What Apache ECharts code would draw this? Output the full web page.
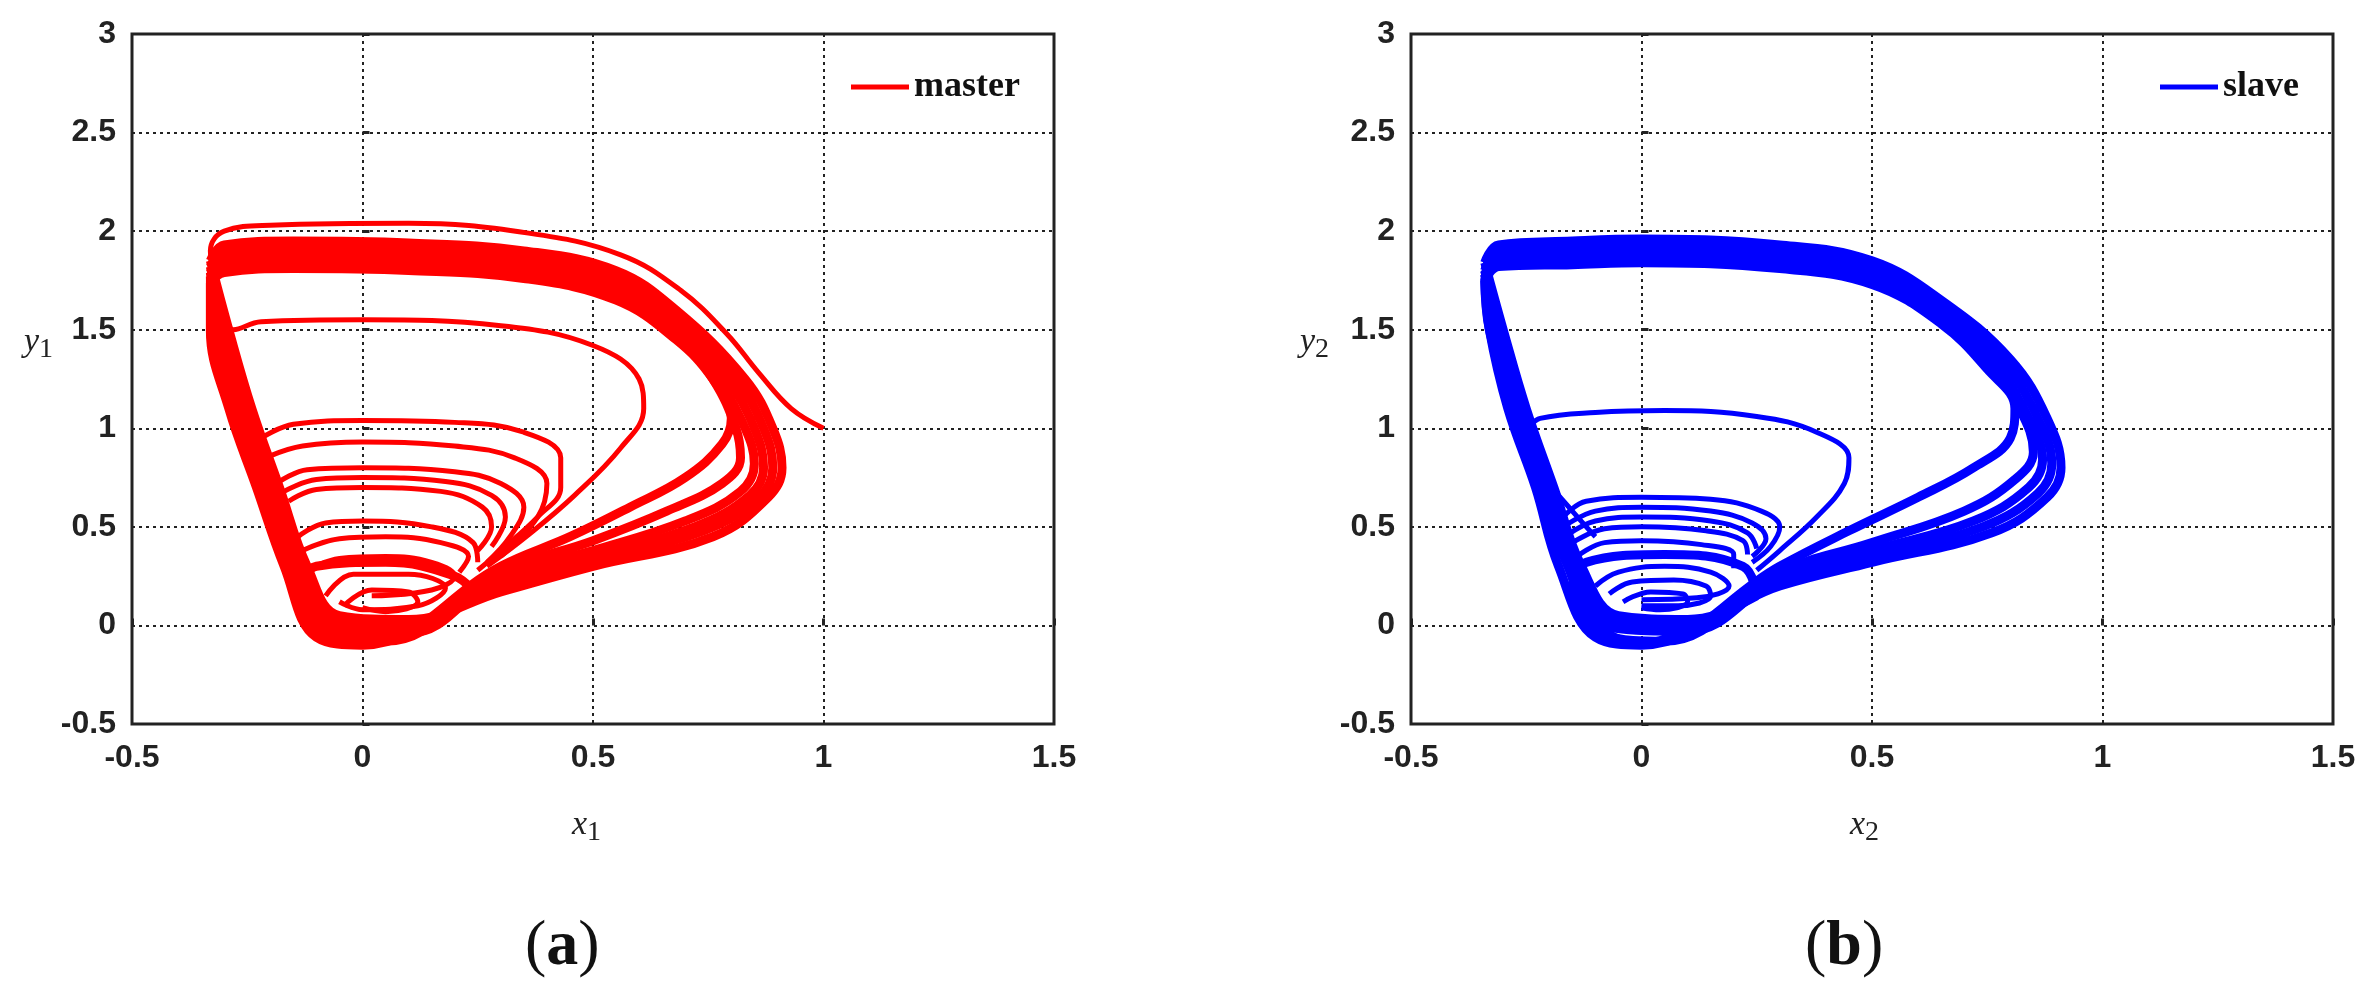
<!DOCTYPE html>
<html><head><meta charset="utf-8">
<script src="https://cdn.jsdelivr.net/npm/echarts@6/dist/echarts.min.js"></script>
<style>html,body{margin:0;padding:0;background:#fff}#c{width:2377px;height:997px}</style>
</head><body><div id="c"></div>
<script>
// axis ticks
const xTicks = [-0.5, 0, 0.5, 1, 1.5];
const yTicks = [-0.5, 0, 0.5, 1, 1.5, 2, 2.5, 3];

// ---- master (red) trajectory pieces, [x1, y1]
const masterStart = [[1,1],[0.93,1.1],[0.86,1.28],[0.79,1.48],[0.69,1.7],[0.56,1.88],[0.36,1.99],[0.1,2.04],[-0.2,2.03],[-0.3,2.0],[-0.33,1.9],[-0.32,1.75]];
const masterLoop155 = [[-0.32,1.75],[-0.3,1.6],[-0.28,1.5],[-0.22,1.54],[0,1.55],[0.3,1.52],[0.5,1.42],[0.6,1.25],[0.61,1.1],[0.56,0.9],[0.46,0.66],[0.36,0.46],[0.27,0.3]];
const masterBand1 = [[-0.33,1.85],[-0.3,1.93],[-0.15,1.95],[0.1,1.94],[0.35,1.9],[0.55,1.8],[0.68,1.6],[0.83,1.25],[0.89,1.0],[0.91,0.8],[0.88,0.65],[0.76,0.45],[0.5,0.3],[0.3,0.17],[0.1,0.03],[-0.05,0.05],[-0.12,0.3],[-0.18,0.7],[-0.24,1.1],[-0.29,1.5],[-0.33,1.85]];
const masterBand2 = [[-0.33,1.82],[-0.3,1.9],[-0.15,1.92],[0.1,1.91],[0.35,1.87],[0.55,1.77],[0.68,1.57],[0.81,1.25],[0.87,1.0],[0.89,0.8],[0.86,0.65],[0.74,0.48],[0.5,0.33],[0.3,0.2],[0.1,0.02],[-0.06,0.03],[-0.13,0.3],[-0.19,0.7],[-0.25,1.1],[-0.3,1.5],[-0.33,1.82]];
const masterBand3 = [[-0.33,1.79],[-0.3,1.87],[-0.15,1.89],[0.1,1.88],[0.35,1.84],[0.55,1.74],[0.68,1.54],[0.79,1.25],[0.85,1.0],[0.87,0.8],[0.84,0.66],[0.72,0.5],[0.5,0.35],[0.3,0.22],[0.1,0.0],[-0.07,0.0],[-0.14,0.3],[-0.2,0.7],[-0.26,1.1],[-0.31,1.5],[-0.33,1.79]];
const masterBand4 = [[-0.33,1.77],[-0.3,1.84],[-0.15,1.86],[0.1,1.85],[0.35,1.81],[0.55,1.71],[0.68,1.51],[0.77,1.25],[0.83,1.0],[0.85,0.82],[0.82,0.68],[0.7,0.53],[0.5,0.38],[0.3,0.25],[0.1,-0.04],[-0.08,-0.03],[-0.15,0.3],[-0.21,0.7],[-0.27,1.1],[-0.32,1.5],[-0.33,1.77]];
const masterBand5 = [[-0.33,1.75],[-0.3,1.81],[-0.15,1.83],[0.1,1.82],[0.35,1.78],[0.55,1.68],[0.68,1.48],[0.76,1.25],[0.81,1.0],[0.82,0.85],[0.78,0.72],[0.66,0.58],[0.5,0.43],[0.3,0.27],[0.05,-0.08],[-0.09,-0.05],[-0.16,0.3],[-0.22,0.7],[-0.28,1.1],[-0.32,1.5],[-0.33,1.75]];
const masterBand6 = [[-0.33,1.74],[-0.3,1.79],[-0.15,1.81],[0.1,1.8],[0.35,1.76],[0.55,1.65],[0.68,1.45],[0.76,1.25],[0.8,1.05],[0.78,0.92],[0.7,0.75],[0.58,0.6],[0.45,0.45],[0.3,0.3],[0.0,-0.1],[-0.1,-0.06],[-0.17,0.3],[-0.23,0.7],[-0.29,1.1],[-0.33,1.5],[-0.33,1.74]];
const masterLoop104 = [[-0.22,0.95],[-0.15,1.02],[0,1.04],[0.2,1.03],[0.35,0.98],[0.43,0.85],[0.43,0.7],[0.38,0.55],[0.3,0.38],[0.25,0.28]];
const masterLoop093 = [[-0.2,0.86],[-0.13,0.91],[0,0.93],[0.2,0.91],[0.33,0.85],[0.4,0.72],[0.38,0.55],[0.3,0.35]];
const masterLoop080 = [[-0.18,0.73],[-0.12,0.79],[0,0.8],[0.2,0.78],[0.3,0.72],[0.35,0.6],[0.32,0.45],[0.27,0.32]];
const masterLoop075 = [[-0.17,0.68],[-0.1,0.74],[0,0.75],[0.18,0.73],[0.28,0.66],[0.31,0.55],[0.28,0.4]];
const masterLoop070 = [[-0.16,0.63],[-0.1,0.69],[0,0.7],[0.17,0.68],[0.26,0.6],[0.28,0.5],[0.25,0.38]];
const masterLoop053 = [[-0.14,0.45],[-0.08,0.52],[0,0.53],[0.15,0.5],[0.24,0.42],[0.25,0.32]];
const masterLoop045 = [[-0.13,0.38],[-0.05,0.44],[0.05,0.45],[0.17,0.42],[0.23,0.35],[0.21,0.27]];
const masterLoop035 = [[-0.12,0.28],[-0.05,0.34],[0.05,0.35],[0.15,0.32],[0.2,0.25],[0.15,0.18],[0.02,0.15]];
const masterSpiral1 = [[-0.08,0.15],[-0.02,0.26],[0.1,0.26],[0.18,0.19],[0.12,0.1],[0.0,0.08],[-0.05,0.12]];
const masterSpiral2 = [[-0.04,0.1],[0.02,0.18],[0.1,0.17],[0.12,0.12],[0.05,0.07],[0.0,0.09]];
const masterFill = [[0.25,0.15],[0.1,-0.02],[0.0,-0.08],[-0.08,-0.03],[-0.13,0.15],[-0.1,0.3],[0.05,0.32],[0.2,0.25],[0.25,0.15]];
const masterBands = [masterBand1, masterBand2, masterBand3, masterBand4, masterBand5, masterBand6, masterFill];
const masterSegments = [masterStart, masterLoop155, masterLoop104, masterLoop093, masterLoop080, masterLoop075, masterLoop070, masterLoop053, masterLoop045, masterLoop035, masterSpiral1, masterSpiral2];

// ---- slave (blue) trajectory pieces, [x2, y2]
const slaveBand1 = [[-0.34,1.84],[-0.31,1.93],[-0.15,1.95],[0.0,1.96],[0.3,1.93],[0.5,1.85],[0.65,1.65],[0.8,1.35],[0.88,1.05],[0.91,0.8],[0.88,0.65],[0.76,0.47],[0.5,0.32],[0.3,0.2],[0.1,0.03],[-0.05,0.05],[-0.13,0.3],[-0.19,0.7],[-0.25,1.1],[-0.3,1.5],[-0.34,1.84]];
const slaveBand2 = [[-0.34,1.8],[-0.31,1.9],[-0.15,1.92],[0.0,1.93],[0.3,1.9],[0.5,1.82],[0.65,1.62],[0.78,1.35],[0.86,1.05],[0.89,0.82],[0.86,0.67],[0.74,0.5],[0.5,0.35],[0.3,0.22],[0.1,0.0],[-0.06,0.02],[-0.14,0.3],[-0.2,0.7],[-0.26,1.1],[-0.31,1.5],[-0.34,1.8]];
const slaveBand3 = [[-0.34,1.78],[-0.31,1.87],[-0.15,1.89],[0.0,1.9],[0.3,1.87],[0.5,1.79],[0.65,1.59],[0.76,1.35],[0.84,1.05],[0.87,0.84],[0.84,0.7],[0.72,0.53],[0.5,0.38],[0.3,0.24],[0.1,-0.03],[-0.07,-0.01],[-0.15,0.3],[-0.21,0.7],[-0.27,1.1],[-0.32,1.5],[-0.34,1.78]];
const slaveBand4 = [[-0.34,1.76],[-0.31,1.84],[-0.15,1.86],[0.0,1.87],[0.3,1.84],[0.5,1.76],[0.65,1.56],[0.75,1.35],[0.82,1.1],[0.85,0.88],[0.81,0.74],[0.7,0.58],[0.5,0.42],[0.3,0.27],[0.05,-0.08],[-0.08,-0.05],[-0.16,0.3],[-0.22,0.7],[-0.28,1.1],[-0.33,1.5],[-0.34,1.76]];
const slaveBand5 = [[-0.34,1.75],[-0.31,1.82],[-0.15,1.83],[0.0,1.84],[0.3,1.81],[0.5,1.73],[0.65,1.53],[0.75,1.3],[0.81,1.1],[0.8,0.95],[0.72,0.8],[0.6,0.65],[0.45,0.48],[0.3,0.3],[0.0,-0.1],[-0.1,-0.06],[-0.18,0.3],[-0.23,0.7],[-0.29,1.1],[-0.33,1.5],[-0.34,1.75]];
const slaveLoop108 = [[-0.27,1.25],[-0.25,1.0],[-0.22,1.05],[-0.1,1.08],[0.05,1.09],[0.25,1.06],[0.38,0.98],[0.45,0.85],[0.44,0.72],[0.38,0.55],[0.3,0.38],[0.25,0.28]];
const slaveLoopLeft = [[-0.25,1.0],[-0.24,0.88],[-0.2,0.72],[-0.15,0.58],[-0.1,0.45]];
const slaveLoop065 = [[-0.17,0.55],[-0.12,0.63],[0,0.65],[0.15,0.64],[0.26,0.58],[0.3,0.5],[0.28,0.4],[0.24,0.32]];
const slaveLoop060 = [[-0.17,0.5],[-0.1,0.58],[0,0.6],[0.15,0.58],[0.24,0.52],[0.27,0.44],[0.24,0.35]];
const slaveLoop055 = [[-0.16,0.46],[-0.1,0.53],[0,0.55],[0.15,0.53],[0.23,0.47],[0.25,0.39]];
const slaveLoop050 = [[-0.15,0.42],[-0.08,0.49],[0,0.5],[0.14,0.48],[0.22,0.43],[0.23,0.36]];
const slaveLoop043 = [[-0.14,0.35],[-0.08,0.42],[0,0.43],[0.13,0.41],[0.2,0.36],[0.2,0.29]];
const slaveSpiral1 = [[-0.1,0.2],[-0.05,0.27],[0.05,0.3],[0.15,0.27],[0.19,0.2],[0.12,0.14],[0.0,0.13]];
const slaveSpiral2 = [[-0.07,0.16],[-0.02,0.22],[0.07,0.23],[0.14,0.2],[0.15,0.15],[0.08,0.1],[0.0,0.1]];
const slaveSpiral3 = [[-0.04,0.12],[0.02,0.17],[0.09,0.16],[0.1,0.12],[0.04,0.08],[0.0,0.09]];
const slaveFill = [[0.25,0.15],[0.1,-0.02],[0.0,-0.09],[-0.08,-0.03],[-0.15,0.15],[-0.12,0.32],[0.05,0.36],[0.22,0.3],[0.25,0.15]];
const slaveBands = [slaveBand1, slaveBand2, slaveBand3, slaveBand4, slaveBand5, slaveFill];
const slaveSegments = [slaveLoop108, slaveLoopLeft, slaveLoop065, slaveLoop060, slaveLoop055, slaveLoop050, slaveLoop043, slaveSpiral1, slaveSpiral2, slaveSpiral3];

const chart = echarts.init(document.getElementById('c'));
const gridBase = {top: 34, height: 690, width: 922, show: true, borderColor: '#222', borderWidth: 3, backgroundColor: 'transparent'};
const axisLabelStyle = {color: '#222', fontSize: 32, fontWeight: 'bold', fontFamily: 'Liberation Sans, Arial'};
function xAxis(i){return {gridIndex:i,type:'value',min:-0.5,max:1.5,interval:0.5,
  axisLine:{show:false},axisTick:{show:true,inside:true,length:7,lineStyle:{color:'#222',width:3}},
  axisLabel:{...axisLabelStyle,margin:18,formatter:v=>String(v)},
  splitLine:{show:true,lineStyle:{color:'#222',type:[3,4],width:2}}};}
function yAxis(i){return {gridIndex:i,type:'value',min:-0.5,max:3,interval:0.5,
  axisLine:{show:false},axisTick:{show:true,inside:true,length:7,lineStyle:{color:'#222',width:3}},
  axisLabel:{...axisLabelStyle,margin:16,formatter:v=>String(v)},
  splitLine:{show:true,lineStyle:{color:'#222',type:[3,4],width:2}}};}

const series = [];
function add(segs,name,idx,color,w){segs.forEach(seg=>series.push({name,type:'line',xAxisIndex:idx,yAxisIndex:idx,data:seg,smooth:0.4,showSymbol:false,lineStyle:{color,width:w},itemStyle:{color},silent:true}));}
add(masterBands,'master',0,'#ff0000',9);
add(masterSegments,'master',0,'#ff0000',5);
add(slaveBands,'slave',1,'#0000ff',9);
add(slaveSegments,'slave',1,'#0000ff',5);

const legendText = {fontFamily:'Liberation Serif, Times New Roman',fontWeight:'bold',fontSize:36,color:'#111'};
const serif = 'Liberation Serif, Times New Roman';
function axName(x,y,letter,sub){return {type:'text',left:x,top:y,style:{text:'{a|'+letter+'}{b|'+sub+'}',rich:{a:{fontFamily:serif,fontStyle:'italic',fontSize:34,fill:'#222'},b:{fontFamily:serif,fontSize:28,fill:'#222',padding:[16,0,0,0]}}}};}

chart.setOption({
  animation:false,
  grid:[{...gridBase,left:132},{...gridBase,left:1411}],
  xAxis:[xAxis(0),xAxis(1)],
  yAxis:[yAxis(0),yAxis(1)],
  legend:[
    {data:['master'],left:846,top:64,itemWidth:58,itemHeight:5,itemGap:10,textStyle:legendText,icon:'rect'},
    {data:['slave'],left:2155,top:64,itemWidth:58,itemHeight:5,itemGap:10,textStyle:legendText,icon:'rect'}
  ],
  graphic:[
    axName(572,808,'x','1'), axName(1850,808,'x','2'),
    axName(24,325,'y','1'), axName(1300,325,'y','2'),
    {type:'text',left:525,top:915,style:{text:'({a|a})',rich:{a:{fontFamily:serif,fontWeight:'bold',fontSize:64,fill:'#111'}},fontFamily:serif,fontSize:64,fill:'#111'}},
    {type:'text',left:1805,top:915,style:{text:'({a|b})',rich:{a:{fontFamily:serif,fontWeight:'bold',fontSize:64,fill:'#111'}},fontFamily:serif,fontSize:64,fill:'#111'}}
  ],
  series
});
</script></body></html>
